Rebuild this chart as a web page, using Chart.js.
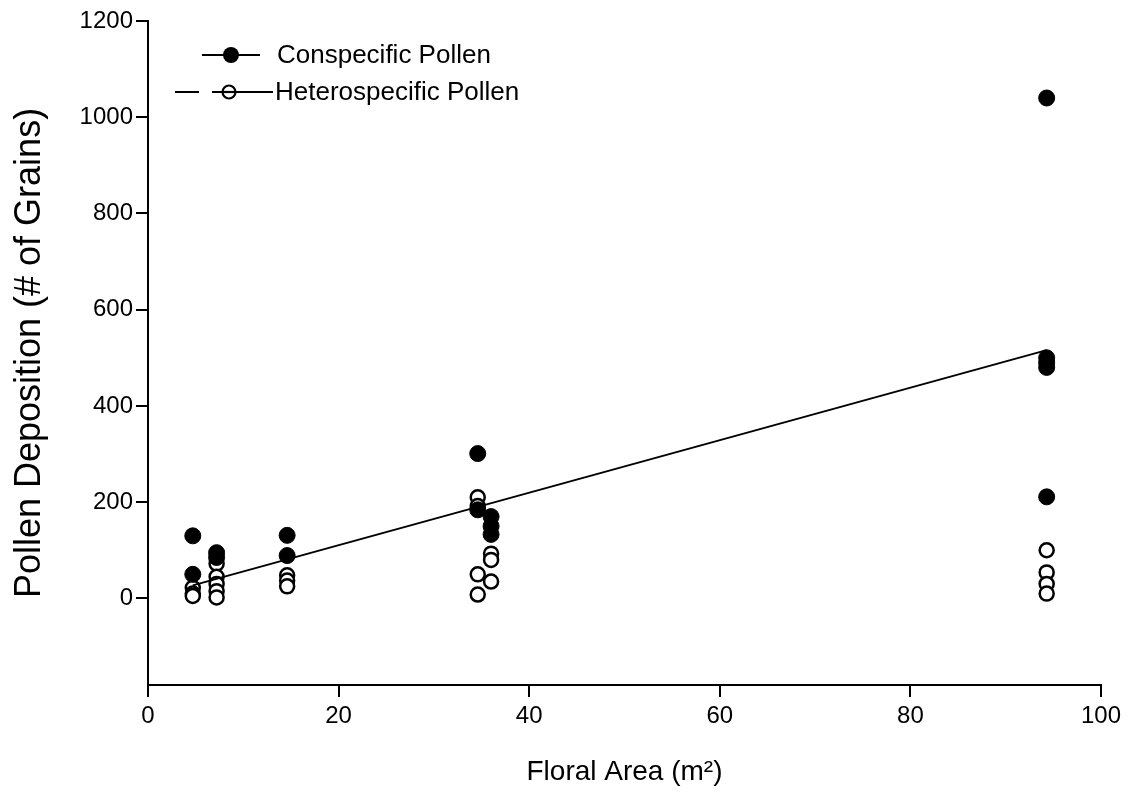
<!DOCTYPE html>
<html><head><meta charset="utf-8">
<script src="https://cdn.jsdelivr.net/npm/chart.js@4.4.1/dist/chart.umd.min.js"></script>
<style>html,body{margin:0;padding:0;background:#fff}#wrap{width:1128px;height:804px}</style>
</head><body><div id="wrap"><canvas id="c"></canvas></div>
<script>
const consLabel = 'Conspecific Pollen';
const heteroLabel = 'Heterospecific Pollen';
const consX = [4.7, 4.7, 7.2, 7.2, 14.6, 14.6, 34.6, 34.6, 36.0, 36.0, 36.0, 94.3, 94.3, 94.3, 94.3, 94.3];
const consY = [130, 50, 95, 85, 131, 89, 301, 184, 170, 150, 133, 1040, 500, 490, 480, 211];
const heteroX = [4.7, 4.7, 4.7, 7.2, 7.2, 7.2, 7.2, 7.2, 14.6, 14.6, 14.6, 34.6, 34.6, 34.6, 34.6, 36.0, 36.0, 36.0, 94.3, 94.3, 94.3, 94.3];
const heteroY = [22, 10, 5, 72, 45, 30, 15, 2, 48, 37, 25, 210, 192, 50, 8, 93, 80, 35, 100, 54, 30, 10];
const fitX = [4.7, 94.3];
const fitY = [27, 516];
const xTicks = [0, 20, 40, 60, 80, 100];
const yTicks = [0, 200, 400, 600, 800, 1000, 1200];

const pts = (xs, ys) => xs.map((x, i) => ({x, y: ys[i]}));
const FONT = "'Liberation Sans', Arial, sans-serif";

const legendPlugin = {
  id: 'insideLegend',
  afterDraw(chart) {
    const ctx = chart.ctx;
    ctx.save();
    ctx.strokeStyle = '#000';
    ctx.fillStyle = '#000';
    ctx.lineWidth = 1.8;
    ctx.font = '26px ' + FONT;
    ctx.textBaseline = 'middle';
    // row 1
    let y = 55;
    ctx.beginPath(); ctx.moveTo(202, y); ctx.lineTo(260, y); ctx.stroke();
    ctx.beginPath(); ctx.arc(231, y, 8, 0, Math.PI * 2); ctx.fill();
    ctx.fillText(chart.data.datasets[1].label, 277, y + 1);
    // row 2
    y = 92;
    ctx.beginPath();
    ctx.moveTo(175, y); ctx.lineTo(199, y);
    ctx.moveTo(212, y); ctx.lineTo(222, y);
    ctx.moveTo(236, y); ctx.lineTo(273, y);
    ctx.stroke();
    ctx.lineWidth = 2.2;
    ctx.beginPath(); ctx.arc(229, y, 6.5, 0, Math.PI * 2); ctx.fillStyle = '#fff'; ctx.fill(); ctx.stroke();
    ctx.beginPath(); ctx.moveTo(223, y); ctx.lineTo(235, y); ctx.stroke();
    ctx.fillStyle = '#000';
    ctx.fillText(chart.data.datasets[2].label, 275, y + 1);
    ctx.restore();
  }
};

new Chart(document.getElementById('c'), {
  type: 'scatter',
  data: {
    datasets: [
      {
        label: 'fit', data: pts(fitX, fitY), showLine: true, borderColor: '#000', borderWidth: 2,
        pointRadius: 0, order: 0, type: 'line'
      },
      {
        label: consLabel, data: pts(consX, consY), pointRadius: 8, pointBackgroundColor: '#000',
        pointBorderColor: '#000', pointBorderWidth: 1, order: 1
      },
      {
        label: heteroLabel, data: pts(heteroX, heteroY), pointRadius: 7, pointBackgroundColor: '#fff',
        pointBorderColor: '#000', pointBorderWidth: 2.5, order: 2
      }
    ]
  },
  options: {
    responsive: true, maintainAspectRatio: false, animation: false,
    layout: { padding: { top: 21, right: 27, left: 0, bottom: 0 } },
    plugins: { legend: { display: false }, tooltip: { enabled: false } },
    scales: {
      x: {
        type: 'linear', min: 0, max: 100,
        afterFit(s) { s.height = 119; },
        afterBuildTicks(s) { s.ticks = xTicks.map(v => ({value: v})); },
        grid: { drawOnChartArea: false, drawTicks: true, tickLength: 12, color: '#000', lineWidth: 2 },
        border: { display: true, color: '#000', width: 2 },
        ticks: { color: '#000', font: { family: FONT, size: 24 }, padding: 5, maxRotation: 0, callback: v => String(v) },
        title: { display: true, text: 'Floral Area (m²)', color: '#000', font: { family: FONT, size: 28 }, padding: { top: 0, bottom: 15 } }
      },
      y: {
        type: 'linear', min: -180, max: 1200,
        afterFit(s) { s.width = 148; },
        afterBuildTicks(s) { s.ticks = yTicks.map(v => ({value: v})); },
        grid: { drawOnChartArea: false, drawTicks: true, tickLength: 12, color: '#000', lineWidth: 2 },
        border: { display: true, color: '#000', width: 2 },
        ticks: { color: '#000', font: { family: FONT, size: 24 }, padding: 3, callback: v => String(v) },
        title: { display: true, text: 'Pollen Deposition (# of Grains)', color: '#000', font: { family: FONT, size: 36 }, padding: { top: 8, bottom: 0 } }
      }
    }
  },
  plugins: [legendPlugin]
});
</script>
</body></html>
